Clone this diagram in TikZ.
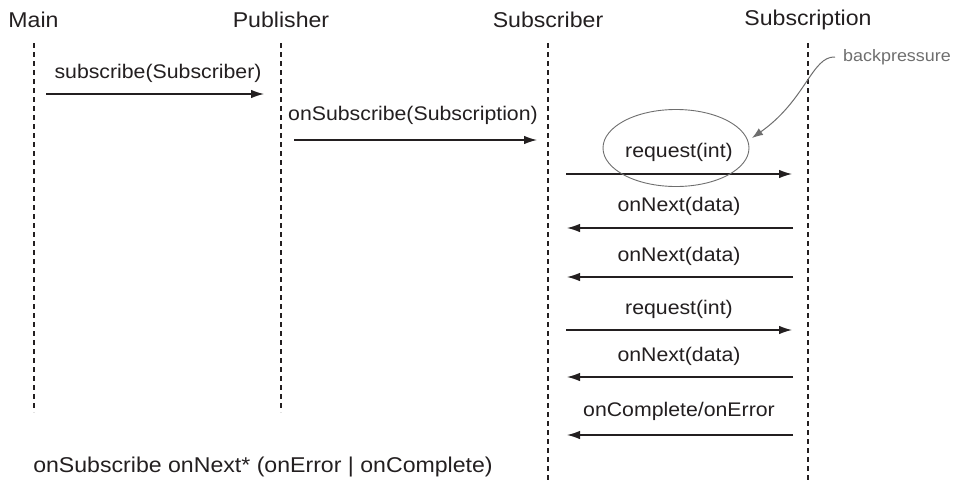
\documentclass[tikz,border=0pt]{standalone}
\usepackage{fontspec}
\setmainfont[FakeStretch=1.08]{Liberation Sans}
\usetikzlibrary{arrows.meta,shapes.geometric}
\definecolor{ink}{HTML}{231F20}
\definecolor{note}{HTML}{6E6E6E}
\begin{document}
\begin{tikzpicture}[x=1pt,y=-1pt,
  life/.style={line width=1.3pt, dash pattern=on 5pt off 4pt, ink},
  msg/.style={line width=1.2pt, ink, -{Latex[length=13pt,width=8.5pt]}},
  lbl/.style={font=\fontsize{19.7}{22}\selectfont, inner sep=0pt, text=ink},
  head/.style={font=\fontsize{21.4}{24}\selectfont, inner sep=0pt, text=ink}]
\useasboundingbox (0,0) rectangle (954,482);

% headers
\node[head] (hMain) at (33.5,20) {Main};
\node[head] (hPub) at (281,20) {Publisher};
\node[head] (hSub) at (548,20) {Subscriber};
\node[head] (hSubn) at (808,20) {Subscription};

% lifelines
\coordinate (mT) at (34,43);   \coordinate (mB) at (34,412);
\coordinate (pT) at (281,43);  \coordinate (pB) at (281,412);
\coordinate (sT) at (548,43);  \coordinate (sB) at (548,482);
\coordinate (nT) at (808,43);  \coordinate (nB) at (808,482);
\draw[life] (mT) -- (mB);
\draw[life] (pT) -- (pB);
\draw[life] (sT) -- (sB);
\draw[life] (nT) -- (nB);

% message end points
\coordinate (a1s) at (46,94);   \coordinate (a1e) at (264,94);
\coordinate (a2s) at (294,140); \coordinate (a2e) at (537,140);
\coordinate (a3s) at (566,174); \coordinate (a3e) at (792,174);
\coordinate (a4s) at (793,228); \coordinate (a4e) at (567,228);
\coordinate (a5s) at (793,277); \coordinate (a5e) at (567,277);
\coordinate (a6s) at (566,330); \coordinate (a6e) at (792,330);
\coordinate (a7s) at (793,377); \coordinate (a7e) at (567,377);
\coordinate (a8s) at (793,435); \coordinate (a8e) at (567,435);

\draw[msg] (a1s) -- (a1e);
\draw[msg] (a2s) -- (a2e);
\draw[msg] (a3s) -- (a3e);
\draw[msg] (a4s) -- (a4e);
\draw[msg] (a5s) -- (a5e);
\draw[msg] (a6s) -- (a6e);
\draw[msg] (a7s) -- (a7e);
\draw[msg] (a8s) -- (a8e);

% labels
\node[lbl] (l1) at (158,73) {subscribe(Subscriber)};
\node[lbl] (l2) at (413,115) {onSubscribe(Subscription)};
\node[lbl] (l3) at (679,152) {request(int)};
\node[lbl] (l4) at (679,206) {onNext(data)};
\node[lbl] (l5) at (679,256) {onNext(data)};
\node[lbl] (l6) at (679,309) {request(int)};
\node[lbl] (l7) at (679,356) {onNext(data)};
\node[lbl] (l8) at (679,411) {onComplete/onError};

% backpressure highlight
\node[ellipse, draw=note, line width=0.9pt, minimum width=146pt, minimum height=77pt, inner sep=0pt] (ell) at (676,148) {};
\node[font=\fontsize{16.6}{19}\selectfont, text=note, inner sep=0pt, anchor=west] (bp) at (843,57) {backpressure};
\draw[note, line width=1pt, -{Latex[length=11pt,width=8pt]}]
  ([xshift=-8pt]bp.west) .. controls (812,56) and (806,100) .. (752,138);

% bottom grammar
\node[head] (gram) at (263,467) {onSubscribe onNext* (onError | onComplete)};
\end{tikzpicture}
\end{document}
